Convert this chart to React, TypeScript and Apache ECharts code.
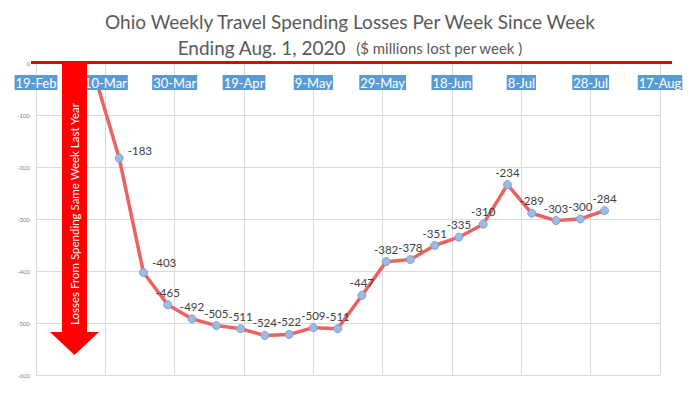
import React, { useEffect, useRef } from 'react';
import * as echarts from 'echarts';

// ---- data ----
const weekEnding = [
  '2020-03-07', '2020-03-14', '2020-03-21', '2020-03-28',
  '2020-04-04', '2020-04-11', '2020-04-18', '2020-04-25',
  '2020-05-02', '2020-05-09', '2020-05-16', '2020-05-23', '2020-05-30',
  '2020-06-06', '2020-06-13', '2020-06-20', '2020-06-27',
  '2020-07-04', '2020-07-11', '2020-07-18', '2020-07-25',
  '2020-08-01',
];
const losses = [
  -25, -183, -403, -465,
  -492, -505, -511, -524,
  -522, -509, -511, -447, -382,
  -378, -351, -335, -310,
  -234, -289, -303, -300,
  -284,
];
const axisStart = '2020-02-19';
const axisEnd = '2020-08-17';
const tickStepDays = 20;
const yMin = -600;
const yMax = 0;
const yStep = 100;
const monthNames = ['Jan', 'Feb', 'Mar', 'Apr', 'May', 'Jun', 'Jul', 'Aug', 'Sep', 'Oct', 'Nov', 'Dec'];

const titleLine1 = 'Ohio Weekly Travel Spending Losses Per Week Since Week';
const titleLine2a = 'Ending Aug. 1, 2020';
const titleLine2b = '($ millions lost per week )';
const arrowText = 'Losses From Spending Same Week Last Year';

const DAY = 86400000;
const t0 = Date.parse(axisStart + 'T00:00:00Z');
const dayOffset = (s: string) => (Date.parse(s + 'T00:00:00Z') - t0) / DAY;
const fmtDay = (off: number) => {
  const d = new Date(t0 + off * DAY);
  return `${d.getUTCDate()}-${monthNames[d.getUTCMonth()]}`;
};

const FONT = 'Lato';

export default function App() {
  const ref = useRef<HTMLDivElement>(null);
  useEffect(() => {
    if (!ref.current) return;
    const chart = echarts.init(ref.current, undefined, { renderer: 'svg' });
    const xMax = dayOffset(axisEnd);
    const seriesData = weekEnding.map((w, i) => {
      const item: any = { value: [dayOffset(w), losses[i]] };
      if (i === 0) {
        item.symbol = 'none';
        item.label = { show: false };
      }
      if (i === 1) item.label = { position: 'right', distance: 4, offset: [0, -8] };
      if (i === 2) item.label = { position: 'right', distance: 4, offset: [0, -10] };
      return item;
    });
    chart.setOption({
      animation: false,
      backgroundColor: '#ffffff',
      title: [
        {
          text: titleLine1,
          left: 'center',
          top: 7,
          textStyle: { fontSize: 19, color: '#595959', fontWeight: 'normal', fontFamily: FONT },
        },
        {
          text: `{a|${titleLine2a}}  {b|${titleLine2b}}`,
          left: 'center',
          top: 33,
          textStyle: {
            fontWeight: 'normal',
            rich: {
              a: { fontSize: 19, color: '#595959', fontFamily: FONT, fontWeight: 'normal' },
              b: { fontSize: 15, color: '#595959', fontFamily: FONT, fontWeight: 'normal' },
            },
          },
        },
      ],
      grid: { left: 36, right: 40, top: 63, bottom: 19, containLabel: false },
      xAxis: [
        {
          type: 'value',
          min: 0,
          max: xMax,
          interval: tickStepDays,
          position: 'bottom',
          axisLabel: { show: false },
          axisTick: { show: false },
          axisLine: { show: false },
          splitLine: { show: true, lineStyle: { color: '#D9D9D9', width: 1 } },
        },
        {
          type: 'value',
          min: 0,
          max: xMax,
          interval: tickStepDays,
          position: 'top',
          z: 10,
          axisLabel: {
            inside: true,
            margin: 12,
            formatter: (v: number) => fmtDay(v),
            color: '#ffffff',
            backgroundColor: '#5B9BD5',
            padding: [1, 1, 1, 1],
            fontSize: 13,
            fontFamily: FONT,
          },
          axisTick: { show: false },
          axisLine: { show: false },
          splitLine: { show: false },
        },
      ],
      yAxis: {
        type: 'value',
        min: yMin,
        max: yMax,
        interval: yStep,
        axisLabel: { fontSize: 6, color: '#7F7F7F', margin: 6, fontFamily: FONT },
        axisTick: { show: false },
        axisLine: { show: false },
        splitLine: { show: true, lineStyle: { color: '#D9D9D9', width: 1 } },
      },
      series: [
        {
          type: 'line',
          xAxisIndex: 0,
          data: seriesData,
          lineStyle: { color: '#EA6360', width: 3.5 },
          symbol: 'circle',
          symbolSize: 8,
          itemStyle: { color: '#9DBAE2', borderColor: '#7DA3D6', borderWidth: 1 },
          label: {
            show: true,
            position: 'top',
            distance: 2,
            fontSize: 11.5,
            color: '#404040',
            fontFamily: FONT,
          },
          z: 2,
        },
      ],
      graphic: [
        {
          type: 'line',
          z: 50,
          shape: { x1: 31, y1: 62.5, x2: 672, y2: 62.5 },
          style: { stroke: '#E00000', lineWidth: 3 },
        },
        {
          type: 'polygon',
          z: 60,
          shape: {
            points: [[62, 62], [87, 62], [87, 332], [99, 332], [74.5, 355], [50, 332], [62, 332]],
          },
          style: { fill: '#FF0000' },
        },
        {
          type: 'text',
          z: 61,
          x: 74.5,
          y: 214,
          rotation: Math.PI / 2,
          style: {
            text: arrowText,
            fill: '#ffffff',
            fontSize: 11.5,
            fontFamily: FONT,
            align: 'center',
            verticalAlign: 'middle',
          },
        },
      ],
    });
    return () => chart.dispose();
  }, []);
  return <div ref={ref} style={{ position: 'fixed', left: 0, top: 0, width: 700, height: 394 }} />;
}
